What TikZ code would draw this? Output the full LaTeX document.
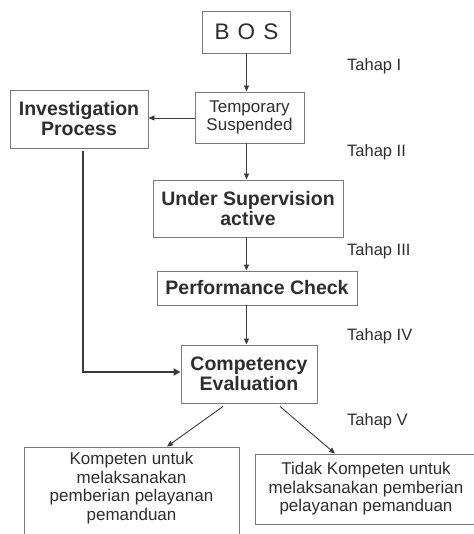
\documentclass[tikz,border=0pt]{standalone}
\usepackage{fontspec}
\setmainfont{Liberation Sans}
\usetikzlibrary{arrows.meta,calc}
\definecolor{txt}{HTML}{2E2E2E}
\definecolor{bord}{HTML}{7A7A7A}
\definecolor{ln}{HTML}{3A3A3A}
\begin{document}
\begin{tikzpicture}[x=1pt,y=-1pt,
  box/.style={draw=bord,line width=0.9pt,text=txt,align=center,inner sep=0pt,anchor=center},
  boldtxt/.style={font=\fontsize{19.5}{20}\selectfont\bfseries},
  regtxt/.style={font=\fontsize{17}{18.5}\selectfont},
  tahap/.style={text=txt,anchor=west,inner sep=0pt,font=\fontsize{16.5}{18}\selectfont},
  arr/.style={draw=ln,line width=0.9pt,-{Triangle[length=6pt,width=5pt]}},
  thickarr/.style={draw=ln,line width=2.6pt,-{Triangle[length=7pt,width=7pt]}}
]
\useasboundingbox[fill=white] (0,0) rectangle (473,534);

\node[box,minimum width=88pt,minimum height=42pt,font=\fontsize{22.5}{24}\selectfont] (bos) at (246.5,32) {B\hspace{8pt}O\hspace{8pt}S};
\node[box,regtxt,minimum width=109pt,minimum height=51pt] (temp) at (249.5,117.5) {Temporary\\Suspended};
\node[box,boldtxt,minimum width=138pt,minimum height=58pt] (inv) at (79,119) {Investigation\\Process};
\node[box,boldtxt,minimum width=190pt,minimum height=57pt] (under) at (248,208.5) {Under Supervision\\active};
\node[box,boldtxt,minimum width=200pt,minimum height=34pt] (perf) at (257,288) {Performance Check};
\node[box,boldtxt,minimum width=136pt,minimum height=58pt] (comp) at (249,374) {Competency\\Evaluation};
\node[box,minimum width=215pt,minimum height=100pt] (kbox) at (131.5,497) {};
\node[text=txt,align=center,inner sep=0pt,regtxt] (ktext) at (131.5,488) {Kompeten untuk\\melaksanakan\\pemberian pelayanan\\pemanduan};
\node[box,regtxt,minimum width=222pt,minimum height=70pt] (tidak) at (366,489) {Tidak Kompeten untuk\\melaksanakan pemberian\\pelayanan pemanduan};

\node[tahap] (t1) at (347,66) {Tahap I};
\node[tahap] (t2) at (347,152) {Tahap II};
\node[tahap] (t3) at (347,251) {Tahap III};
\node[tahap] (t4) at (347,336) {Tahap IV};
\node[tahap] (t5) at (347,421) {Tahap V};

\draw[arr] (bos.south) -- (bos.south |- temp.north);
\draw[arr] (temp.west |- 0,118) -- (inv.east |- 0,118);
\draw[arr] (temp.south -| bos.south) -- (bos.south |- under.north);
\draw[arr] (under.south -| bos.south) -- (bos.south |- perf.north);
\draw[arr] (perf.south -| bos.south) -- (bos.south |- comp.north);
\draw[arr] ([xshift=-26pt,yshift=-3pt]comp.south) -- ([xshift=35.5pt]kbox.north);
\draw[arr] ([xshift=31pt,yshift=-3pt]comp.south) -- ([xshift=-31pt]tidak.north);
\draw[thickarr] ([xshift=4pt,yshift=-3pt]inv.south) |- ([yshift=2pt]comp.west);
\end{tikzpicture}
\end{document}
